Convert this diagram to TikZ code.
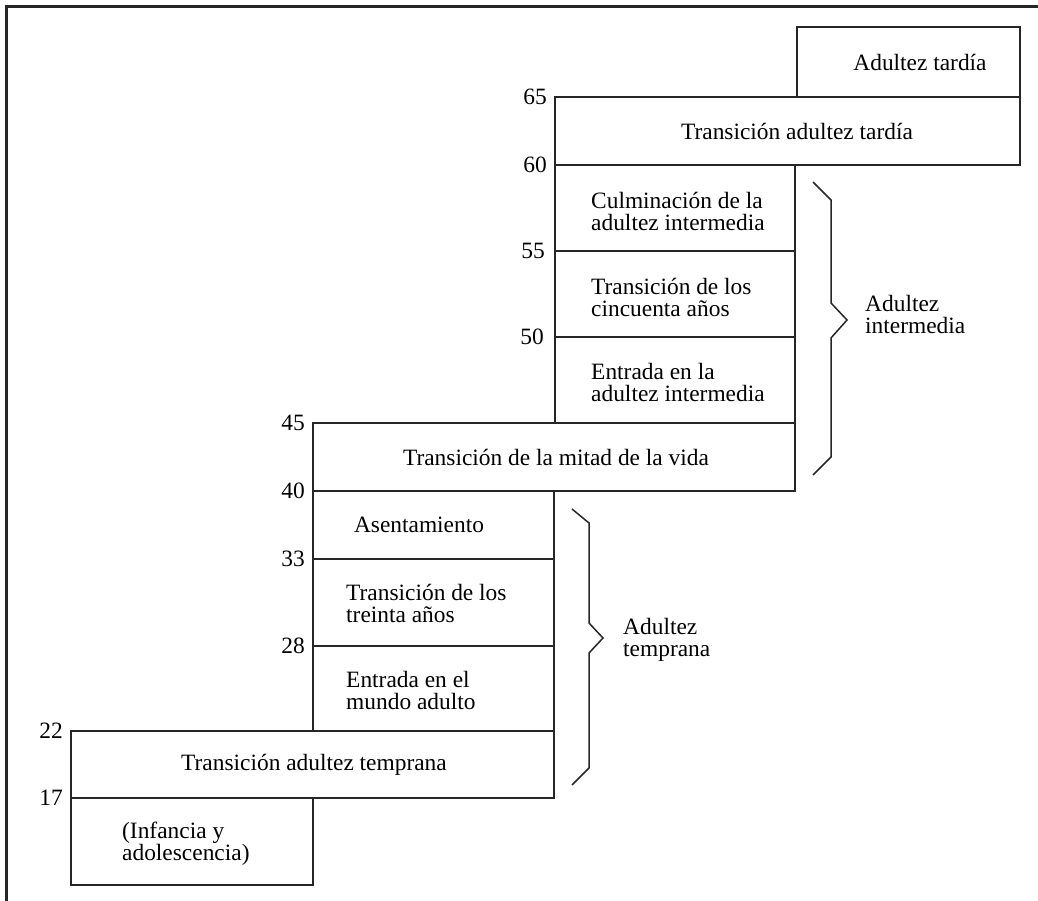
\documentclass[tikz,border=0pt]{standalone}
\usepackage{fontspec}
\setmainfont{Liberation Serif}
\begin{document}
\begin{tikzpicture}[x=1pt,y=-1pt,
  stagebox/.style={draw=black!85,line width=1.8pt,inner sep=0pt},
  lbl/.style={inner sep=0pt,font=\fontsize{23.4}{22}\selectfont},
  age/.style={inner sep=0pt,anchor=east,font=\fontsize{23.4}{22}\selectfont},
  bracepath/.style={draw=black!85,line width=1.5pt,line join=miter}]
\useasboundingbox (0,0) rectangle (1038,901);
% frame
\draw[line width=3pt,black!85] (6.5,901) -- (6.5,6.5) -- (1038,6.5);
% boxes
\node[stagebox,minimum width=223pt,minimum height=70pt] (tardia) at (908.5,62) {};
\node[stagebox,minimum width=465pt,minimum height=68pt] (transT) at (787.5,131) {};
\node[stagebox,minimum width=240pt,minimum height=86pt] (culm) at (675,208) {};
\node[stagebox,minimum width=240pt,minimum height=86pt] (cinc) at (675,294) {};
\node[stagebox,minimum width=240pt,minimum height=86pt] (entI) at (675,380) {};
\node[stagebox,minimum width=482pt,minimum height=68pt] (mitad) at (554,457) {};
\node[stagebox,minimum width=241pt,minimum height=68pt] (asent) at (433.5,525) {};
\node[stagebox,minimum width=241pt,minimum height=87pt] (treinta) at (433.5,602.5) {};
\node[stagebox,minimum width=241pt,minimum height=85pt] (entM) at (433.5,688.5) {};
\node[stagebox,minimum width=483pt,minimum height=67pt] (transTemp) at (312.5,764.5) {};
\node[stagebox,minimum width=242pt,minimum height=87pt] (infancia) at (192,841.5) {};
% texts
\node[lbl] (tTardia) at (920,62) {Adultez tardía};
\node[lbl] (tTransT) at (797,131) {Transición adultez tardía};
\node[lbl,anchor=west,align=left] (tCulm) at (591,211) {Culminación de la\\adultez intermedia};
\node[lbl,anchor=west,align=left] (tCinc) at (591,297.5) {Transición de los\\cincuenta años};
\node[lbl,anchor=west,align=left] (tEntI) at (591,382) {Entrada en la\\adultez intermedia};
\node[lbl] (tMitad) at (556,457) {Transición de la mitad de la vida};
\node[lbl] (tAsent) at (419,525) {Asentamiento};
\node[lbl,anchor=west,align=left] (tTreinta) at (346,603.5) {Transición de los\\treinta años};
\node[lbl,anchor=west,align=left] (tEntM) at (346,690) {Entrada en el\\mundo adulto};
\node[lbl] (tTransTemp) at (314,765) {Transición adultez temprana};
\node[lbl,anchor=west,align=left] (tInf) at (122,844) {(Infancia y\\adolescencia)};
\node[lbl,anchor=west,align=left] (tAdInt) at (865,314.5) {Adultez\\intermedia};
\node[lbl,anchor=west,align=left] (tAdTemp) at (623,640) {Adultez\\temprana};
% ages
\node[age] (a65) at (547,97) {65};
\node[age] (a60) at (547,165) {60};
\node[age] (a55) at (545,251) {55};
\node[age] (a50) at (544,337) {50};
\node[age] (a45) at (305,423) {45};
\node[age] (a40) at (305,491) {40};
\node[age] (a33) at (305,559) {33};
\node[age] (a28) at (305,646) {28};
\node[age] (a22) at (63,731) {22};
\node[age] (a17) at (63,798) {17};
% braces
\draw[bracepath] (813,182) -- (831,200) -- (831,303) -- (847,320) -- (831,338) -- (831,457) -- (813,475);
\draw[bracepath] (572,509) -- (589,523) -- (589,623) -- (603,638) -- (589,653) -- (589,768) -- (572,785);
\end{tikzpicture}
\end{document}
